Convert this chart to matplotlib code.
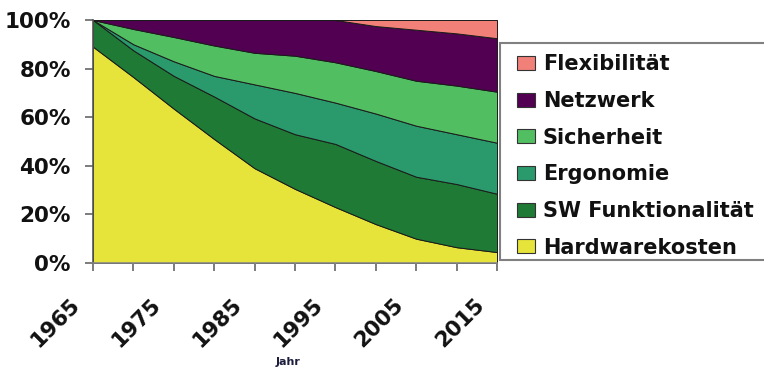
import matplotlib
matplotlib.use("Agg")
import matplotlib.pyplot as plt
import matplotlib.transforms as mtransforms
from matplotlib.font_manager import FontProperties
from matplotlib.patches import Patch, Rectangle
from matplotlib.legend_handler import HandlerPatch
from matplotlib.ticker import FuncFormatter

# Share of total cost (%) per category, every five years
years = [1965, 1970, 1975, 1980, 1985, 1990, 1995, 2000, 2005, 2010, 2015]
hardwarekosten = [89, 76.5, 63.5, 51, 39, 30.5, 23, 16, 10, 6.5, 4.5]
sw_funktionalitaet = [11, 11, 13.5, 17.5, 20.5, 22.5, 26, 26, 25.5, 26, 24]
ergonomie = [0, 2.5, 6, 8.5, 14, 17, 17, 19.5, 21, 20.5, 21]
sicherheit = [0, 6.3, 10, 12.5, 13, 15.3, 16.6, 17.5, 18.5, 20, 21]
netzwerk = [0, 3.7, 7, 10.5, 13.5, 14.7, 17.4, 18.5, 21, 21.5, 22]
flexibilitaet = [0, 0, 0, 0, 0, 0, 0, 2.5, 4, 5.5, 7.5]

series = [hardwarekosten, sw_funktionalitaet, ergonomie, sicherheit, netzwerk, flexibilitaet]
labels = ["Hardwarekosten", "SW Funktionalität", "Ergonomie", "Sicherheit",
          "Netzwerk", "Flexibilität"]
colors = ["#e6e43a", "#1e7a34", "#2a9a6c", "#52be62", "#520052", "#f08078"]

tick_years = [1965, 1975, 1985, 1995, 2005, 2015]

W, H, DPI = 764, 369, 100
fig = plt.figure(figsize=(W / DPI, H / DPI), dpi=DPI)
ax = fig.add_axes([93 / W, 1 - 263 / H, (497 - 93) / W, (263 - 20) / H])

ax.stackplot(years, *series, colors=colors, edgecolor="#1a1a1a", linewidth=0.7)

ax.set_xlim(years[0], years[-1])
ax.set_ylim(0, 100)

for side in ("top", "right"):
    ax.spines[side].set_visible(False)
ax.spines["left"].set_color("#555555")
ax.spines["bottom"].set_color("#888888")
ax.spines["left"].set_linewidth(1.2)
ax.spines["bottom"].set_linewidth(1.2)

ax.set_yticks(range(0, 101, 20))
ax.yaxis.set_major_formatter(FuncFormatter(lambda v, p: f"{v:.0f}%"))
all_years = list(range(years[0], years[-1] + 1, 5))
ax.set_xticks(all_years)
ax.set_xticklabels([str(y) if y in tick_years else "" for y in all_years])

tick_font = FontProperties(family="DejaVu Sans", weight="bold", size=15.5)
ax.tick_params(axis="both", length=6, width=1.2, color="#666666")
ax.tick_params(axis="y", pad=10)
for lbl in ax.get_yticklabels():
    lbl.set_fontproperties(tick_font)
    lbl.set_color("#111111")
offset = mtransforms.ScaledTranslation(-9 / DPI, -18 / DPI, fig.dpi_scale_trans)
for lbl in ax.get_xticklabels():
    lbl.set_fontproperties(tick_font)
    lbl.set_color("#111111")
    lbl.set_rotation(45)
    lbl.set_ha("right")
    lbl.set_transform(lbl.get_transform() + offset)

fig.text(288 / W, 1 - 362 / H, "Jahr", ha="center", va="center",
         fontsize=8, fontweight="bold", color="#1c1c3c", family="DejaVu Sans")


def square_handle(legend, orig_handle, xdescent, ydescent, width, height, fontsize):
    # small box drawn at the right end of the handle slot
    w = 18 * 72 / DPI
    h = 14 * 72 / DPI
    return Rectangle((-xdescent + width - w, -ydescent + (height - h) / 2), w, h)


# legend frame, running off the right edge of the figure
frame = Rectangle((500 / W, 1 - 260 / H), 280 / W, 217 / H, transform=fig.transFigure,
                  facecolor="white", edgecolor="#808080", linewidth=1.5, zorder=2)
fig.add_artist(frame)

handles = [Patch(facecolor=c, edgecolor="#333333", linewidth=0.8, label=l)
           for c, l in zip(colors, labels)][::-1]
leg = fig.legend(handles=handles, loc="upper left",
                 bbox_to_anchor=(500 / W, 1 - 45 / H), bbox_transform=fig.transFigure,
                 prop=dict(family="DejaVu Sans", weight="bold", size=15),
                 frameon=False, borderpad=0.45, labelspacing=0.8,
                 handlelength=1.25, handleheight=0.7, handletextpad=0.35,
                 borderaxespad=0,
                 handler_map={Patch: HandlerPatch(patch_func=square_handle)})
leg.set_zorder(3)
for t in leg.get_texts():
    t.set_color("#111111")

fig.savefig("out.png", dpi=DPI)
